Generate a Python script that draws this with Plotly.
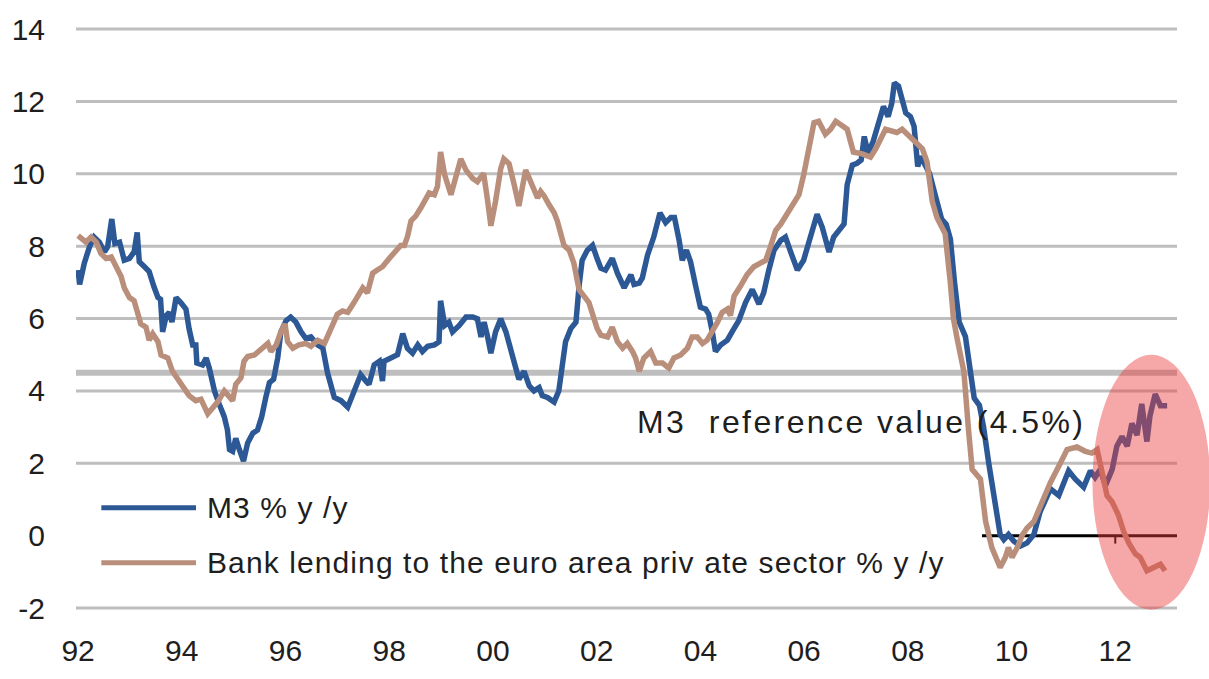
import plotly.graph_objects as go

# ---------------- data ----------------
m3_dates = [
    1992.00, 1992.03, 1992.12, 1992.22, 1992.31, 1992.41, 1992.51, 1992.57, 1992.65, 1992.71,
    1992.80, 1992.89, 1992.99, 1993.08, 1993.14, 1993.18, 1993.28, 1993.37, 1993.46, 1993.54,
    1993.59, 1993.63, 1993.70, 1993.76, 1993.81, 1993.89, 1993.98, 1994.08, 1994.14, 1994.21,
    1994.27, 1994.29, 1994.40, 1994.47, 1994.53, 1994.63, 1994.72, 1994.82, 1994.88, 1994.92,
    1994.98, 1995.04, 1995.11, 1995.19, 1995.27, 1995.37, 1995.46, 1995.54, 1995.62, 1995.69,
    1995.77, 1995.85, 1995.91, 1996.01, 1996.10, 1996.20, 1996.30, 1996.39, 1996.49, 1996.62,
    1996.72, 1996.81, 1996.94, 1997.07, 1997.20, 1997.32, 1997.45, 1997.55, 1997.61, 1997.71,
    1997.81, 1997.87, 1997.90, 1998.03, 1998.16, 1998.26, 1998.35, 1998.45, 1998.55, 1998.64,
    1998.74, 1998.87, 1998.96, 1998.99, 1999.07, 1999.15, 1999.22, 1999.35, 1999.48, 1999.61,
    1999.70, 1999.77, 1999.83, 1999.89, 1999.96, 2000.05, 2000.15, 2000.25, 2000.34, 2000.44,
    2000.50, 2000.60, 2000.70, 2000.79, 2000.89, 2000.95, 2001.05, 2001.18, 2001.27, 2001.34,
    2001.40, 2001.50, 2001.60, 2001.66, 2001.72, 2001.82, 2001.92, 2002.01, 2002.08, 2002.17,
    2002.30, 2002.40, 2002.53, 2002.66, 2002.72, 2002.82, 2002.88, 2002.98, 2003.10, 2003.22,
    2003.33, 2003.43, 2003.50, 2003.59, 2003.65, 2003.73, 2003.81, 2003.91, 2004.00, 2004.10,
    2004.16, 2004.23, 2004.29, 2004.39, 2004.52, 2004.61, 2004.74, 2004.87, 2005.00, 2005.13,
    2005.22, 2005.32, 2005.42, 2005.55, 2005.64, 2005.74, 2005.87, 2005.99, 2006.12, 2006.25,
    2006.35, 2006.48, 2006.57, 2006.67, 2006.77, 2006.83, 2006.93, 2007.02, 2007.10, 2007.16,
    2007.23, 2007.33, 2007.43, 2007.53, 2007.62, 2007.69, 2007.74, 2007.82, 2007.89, 2007.96,
    2008.05, 2008.12, 2008.15, 2008.19, 2008.25, 2008.32, 2008.42, 2008.53, 2008.65, 2008.74,
    2008.82, 2008.90, 2008.99, 2009.11, 2009.23, 2009.28, 2009.38, 2009.46, 2009.56, 2009.69,
    2009.78, 2009.85, 2009.94, 2010.04, 2010.17, 2010.30, 2010.43, 2010.55, 2010.75, 2010.91,
    2011.10, 2011.23, 2011.39, 2011.52, 2011.61, 2011.71, 2011.81, 2011.94, 2012.03, 2012.13,
    2012.23, 2012.32, 2012.42, 2012.51, 2012.61, 2012.67, 2012.77, 2012.87, 2013.00,
]
m3_values = [
    7.34, 6.94, 7.53, 7.98, 8.25, 8.11, 7.84, 7.98, 8.75, 8.07,
    8.11, 7.61, 7.66, 7.84, 8.38, 7.57, 7.43, 7.30, 6.89, 6.58,
    6.53, 5.63, 6.08, 6.17, 5.90, 6.58, 6.44, 6.26, 5.72, 5.27,
    5.27, 4.77, 4.72, 4.91, 4.63, 4.00, 3.64, 3.28, 2.92, 2.38,
    2.33, 2.69, 2.38, 2.06, 2.56, 2.83, 2.92, 3.28, 3.82, 4.23,
    4.32, 4.91, 5.63, 5.94, 6.04, 5.90, 5.63, 5.45, 5.49, 5.27,
    5.18, 4.50, 3.82, 3.73, 3.55, 4.00, 4.45, 4.27, 4.18, 4.72,
    4.82, 4.27, 4.82, 4.91, 5.00, 5.58, 5.18, 5.04, 5.27, 5.09,
    5.23, 5.27, 5.36, 6.49, 5.81, 5.90, 5.63, 5.81, 6.04, 6.04,
    5.99, 5.49, 5.90, 5.54, 5.04, 5.63, 5.99, 5.63, 5.09, 4.63,
    4.32, 4.54, 4.14, 4.00, 4.09, 3.87, 3.82, 3.69, 4.00, 4.63,
    5.36, 5.72, 5.90, 6.89, 7.61, 7.89, 8.02, 7.65, 7.39, 7.34,
    7.66, 7.25, 6.85, 7.21, 6.94, 6.98, 7.12, 7.75, 8.25, 8.92,
    8.65, 8.79, 8.79, 8.16, 7.61, 7.89, 7.57, 6.89, 6.31, 6.26,
    6.12, 5.63, 5.09, 5.27, 5.40, 5.63, 5.94, 6.44, 6.80, 6.40,
    6.71, 7.34, 7.89, 8.16, 8.25, 7.84, 7.34, 7.61, 8.25, 8.88,
    8.52, 7.84, 8.25, 8.43, 8.61, 9.70, 10.24, 10.29, 10.38, 11.03,
    10.57, 10.89, 11.40, 11.86, 11.58, 11.95, 12.51, 12.42, 12.05, 11.68,
    11.58, 11.31, 10.85, 10.20, 10.48, 10.29, 10.00, 9.40, 8.75, 8.60,
    8.20, 7.00, 5.90, 5.50, 4.30, 3.80, 3.60, 3.00, 2.00, 0.93,
    0.03, -0.11, 0.03, -0.15, -0.29, -0.20, 0.03, 0.66, 1.29, 1.11,
    1.79, 1.56, 1.34, 1.79, 1.61, 1.83, 1.38, 1.83, 2.47, 2.74,
    2.47, 3.10, 2.78, 3.64, 2.60, 3.32, 3.91, 3.59, 3.59,
]

lending_dates = [
    1992.00, 1992.06, 1992.15, 1992.25, 1992.35, 1992.44, 1992.54, 1992.64, 1992.73, 1992.83,
    1992.89, 1992.99, 1993.08, 1993.15, 1993.21, 1993.31, 1993.37, 1993.44, 1993.54, 1993.60,
    1993.73, 1993.82, 1993.92, 1994.05, 1994.14, 1994.27, 1994.37, 1994.50, 1994.60, 1994.69,
    1994.82, 1994.92, 1994.98, 1995.04, 1995.14, 1995.20, 1995.27, 1995.40, 1995.53, 1995.66,
    1995.72, 1995.82, 1995.91, 1995.99, 1996.04, 1996.14, 1996.26, 1996.39, 1996.49, 1996.62,
    1996.75, 1996.84, 1996.91, 1997.00, 1997.10, 1997.20, 1997.32, 1997.42, 1997.49, 1997.58,
    1997.68, 1997.77, 1997.87, 1998.00, 1998.13, 1998.22, 1998.29, 1998.35, 1998.42, 1998.51,
    1998.61, 1998.67, 1998.77, 1998.87, 1998.93, 1998.99, 1999.07, 1999.19, 1999.28, 1999.38,
    1999.48, 1999.61, 1999.70, 1999.82, 1999.89, 1999.96, 2000.05, 2000.15, 2000.21, 2000.31,
    2000.41, 2000.50, 2000.57, 2000.63, 2000.70, 2000.79, 2000.86, 2000.92, 2000.99, 2001.08,
    2001.18, 2001.24, 2001.31, 2001.37, 2001.47, 2001.56, 2001.66, 2001.76, 2001.85, 2001.95,
    2002.01, 2002.08, 2002.21, 2002.30, 2002.40, 2002.50, 2002.59, 2002.69, 2002.75, 2002.82,
    2002.91, 2003.04, 2003.14, 2003.27, 2003.39, 2003.49, 2003.62, 2003.75, 2003.84, 2003.94,
    2004.04, 2004.13, 2004.23, 2004.33, 2004.42, 2004.52, 2004.58, 2004.65, 2004.77, 2004.90,
    2005.03, 2005.16, 2005.26, 2005.35, 2005.45, 2005.55, 2005.67, 2005.80, 2005.90, 2005.99,
    2006.06, 2006.12, 2006.19, 2006.28, 2006.41, 2006.51, 2006.61, 2006.70, 2006.83, 2006.95,
    2007.12, 2007.28, 2007.38, 2007.57, 2007.66, 2007.79, 2007.89, 2008.05, 2008.28, 2008.37,
    2008.47, 2008.56, 2008.72, 2008.82, 2008.88, 2008.95, 2009.08, 2009.17, 2009.24, 2009.40,
    2009.50, 2009.62, 2009.78, 2009.88, 2009.94, 2010.01, 2010.11, 2010.20, 2010.30, 2010.43,
    2010.55, 2010.75, 2010.94, 2011.07, 2011.26, 2011.42, 2011.55, 2011.65, 2011.74, 2011.84,
    2011.94, 2012.06, 2012.16, 2012.26, 2012.39, 2012.48, 2012.61, 2012.74, 2012.87, 2012.96,
]
lending_values = [
    8.29, 8.20, 8.11, 8.25, 8.11, 7.80, 7.66, 7.70, 7.48, 7.16,
    6.85, 6.58, 6.49, 6.17, 5.85, 5.76, 5.40, 5.58, 5.36, 4.99,
    4.91, 4.54, 4.32, 4.05, 3.87, 3.73, 3.77, 3.37, 3.55, 3.69,
    4.00, 3.82, 3.73, 4.18, 4.36, 4.82, 4.95, 4.99, 5.13, 5.31,
    5.09, 5.27, 5.63, 5.85, 5.36, 5.18, 5.27, 5.31, 5.23, 5.40,
    5.31, 5.63, 5.81, 6.12, 6.21, 6.17, 6.44, 6.67, 6.85, 6.71,
    7.25, 7.34, 7.43, 7.66, 7.89, 8.02, 8.02, 8.25, 8.70, 8.83,
    9.06, 9.20, 9.47, 9.42, 9.65, 10.60, 9.96, 9.42, 9.87, 10.41,
    10.10, 9.87, 9.78, 10.01, 9.33, 8.56, 9.24, 10.14, 10.41, 10.28,
    9.69, 9.11, 9.65, 10.10, 9.87, 9.56, 9.33, 9.51, 9.38, 9.15,
    8.92, 8.70, 8.25, 8.02, 7.89, 7.53, 6.80, 6.62, 6.44, 5.99,
    5.72, 5.54, 5.49, 5.76, 5.36, 5.18, 5.31, 5.09, 4.91, 4.54,
    4.91, 5.09, 4.77, 4.77, 4.63, 4.91, 4.99, 5.18, 5.49, 5.49,
    5.31, 5.40, 5.63, 5.90, 6.17, 6.26, 6.08, 6.62, 6.89, 7.21,
    7.43, 7.53, 7.61, 7.98, 8.43, 8.61, 8.88, 9.15, 9.42, 9.96,
    10.41, 10.96, 11.41, 11.45, 11.09, 11.23, 11.45, 11.36, 11.23, 10.60,
    10.55, 10.46, 10.69, 11.23, 11.18, 11.14, 11.23, 11.00, 10.69, 10.33,
    9.24, 8.79, 8.34, 6.98, 5.99, 5.45, 4.54, 2.92, 1.83, 1.56,
    0.39, -0.33, -0.88, -0.60, -0.33, -0.60, -0.33, 0.00, 0.21, 0.39,
    0.80, 1.47, 2.00, 2.38, 2.45, 2.33, 2.28, 2.38, 1.79, 1.11,
    0.93, 0.57, 0.12, -0.20, -0.51, -0.60, -0.97, -0.88, -0.79, -0.97,
]

year_ticks = [1992, 1994, 1996, 1998, 2000, 2002, 2004, 2006, 2008, 2010, 2012]
year_labels = ["92", "94", "96", "98", "00", "02", "04", "06", "08", "10", "12"]
value_ticks = [-2, 0, 2, 4, 6, 8, 10, 12, 14]
value_labels = ["-2", "0", "2", "4", "6", "8", "10", "12", "14"]
grid_values = [-2, 2, 4, 6, 8, 10, 12, 14]
reference_value = 4.5
zero_line_start = 2009.43
highlight_x = (2011.56, 2013.83)
highlight_y = (-2.05, 5.0)

series_names = ["M3 % y /y", "Bank lending to the euro area priv ate sector % y /y"]
reference_label = "M3  reference value (4.5%)"

# ---------------- styling ----------------
BLUE = "#2C5896"
BROWN = "#B98E7B"
GRID = "#BEBEBE"
FONT = "Liberation Sans, Arial, sans-serif"
TEXT = "#1E1E1E"

x_min, x_max = 1991.96, 2013.19
y_min, y_max = -2.0, 14.0


def xp(v):
    return (v - x_min) / (x_max - x_min)


def yp(v):
    return (v - y_min) / (y_max - y_min)


def spaced(text, px):
    return '<span style="letter-spacing:%.1fpx">%s</span>' % (px, text)


fig = go.Figure()

fig.add_trace(go.Scatter(
    x=m3_dates, y=m3_values, mode="lines", name=series_names[0],
    line=dict(color=BLUE, width=5.5), showlegend=False,
))
fig.add_trace(go.Scatter(
    x=lending_dates, y=lending_values, mode="lines", name=series_names[1],
    line=dict(color=BROWN, width=5.5), showlegend=False,
))

shapes = []
for g in grid_values:
    shapes.append(dict(type="line", xref="paper", yref="paper", x0=0, x1=1,
                       y0=yp(g), y1=yp(g), line=dict(color=GRID, width=3), layer="below"))
shapes.append(dict(type="line", xref="paper", yref="paper", x0=0, x1=1,
                   y0=yp(reference_value), y1=yp(reference_value),
                   line=dict(color=GRID, width=6), layer="below"))
shapes.append(dict(type="line", xref="x", yref="y", x0=zero_line_start, x1=x_max,
                   y0=0, y1=0, line=dict(color="black", width=3), layer="below"))
shapes.append(dict(type="line", xref="x", yref="y", x0=2012, x1=2012,
                   y0=0, y1=-0.22, line=dict(color="black", width=2), layer="below"))
shapes.append(dict(type="circle", xref="paper", yref="paper",
                   x0=xp(highlight_x[0]), x1=xp(highlight_x[1]),
                   y0=yp(highlight_y[0]), y1=yp(highlight_y[1]),
                   fillcolor="rgba(236,62,62,0.45)", line=dict(width=0), layer="above"))
legend_rows = [(0.173, BLUE), (0.078, BROWN)]
for (ly, col) in legend_rows:
    shapes.append(dict(type="line", xref="paper", yref="paper", x0=0.023, x1=0.109,
                       y0=ly, y1=ly, line=dict(color=col, width=5), layer="above"))

annotations = []
for (ly, col), name in zip(legend_rows, series_names):
    annotations.append(dict(xref="paper", yref="paper", x=0.117, y=ly, text=spaced(name, 1.1),
                            showarrow=False, xanchor="left", yanchor="middle",
                            font=dict(family=FONT, size=30, color=TEXT)))
annotations.append(dict(xref="paper", yref="paper", x=0.508, y=0.322,
                        text=spaced(reference_label, 2.4),
                        showarrow=False, xanchor="left", yanchor="middle",
                        font=dict(family=FONT, size=32, color=TEXT)))

fig.update_layout(
    width=1209, height=679, autosize=False,
    margin=dict(l=75, r=32, t=25, b=64),
    paper_bgcolor="white", plot_bgcolor="white",
    font=dict(family=FONT, size=30, color=TEXT),
    showlegend=False,
    shapes=shapes, annotations=annotations,
)
fig.update_xaxes(range=[x_min, x_max], tickvals=year_ticks, ticktext=year_labels,
                 showgrid=False, zeroline=False, showline=False, ticks="",
                 ticklabelstandoff=22, tickfont=dict(size=30))
fig.update_yaxes(range=[y_min, y_max], tickvals=value_ticks, ticktext=value_labels,
                 showgrid=False, zeroline=False, showline=False, ticks="",
                 ticklabelstandoff=30, tickfont=dict(size=30))

fig.write_html("out.html", config={"displayModeBar": False},
               post_script="document.body.style.margin='0';document.body.style.overflow='hidden';")
